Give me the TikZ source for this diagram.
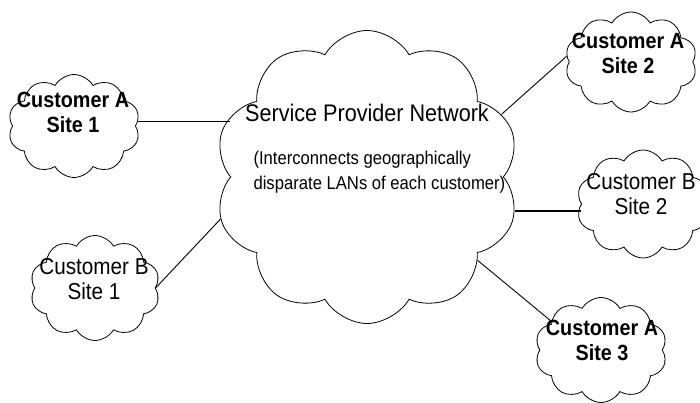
\documentclass[tikz,border=0pt]{standalone}
\usepackage{fontspec}
\setmainfont[FakeStretch=0.9]{Liberation Sans}
\usetikzlibrary{shapes.symbols}

\begin{document}
\begin{tikzpicture}[x=1pt, y=-1pt,
	cloudy/.style={cloud, draw, cloud puffs=10, cloud puff arc=120,
		cloud ignores aspect, inner sep=0pt, line width=0.8pt},
	site/.style={font=\fontsize{23}{25}\selectfont, align=center},
	sitea/.style={font=\fontsize{22}{25}\selectfont\bfseries, align=center},
	link/.style={line width=0.9pt},
	fatlink/.style={line width=1.6pt}
	]
	\useasboundingbox (0,0) rectangle (700,403);

	% provider cloud
	\node[cloudy, minimum width=305pt, minimum height=293pt] (spn) at (367,177) {};
	\node[font=\fontsize{24}{28}\selectfont] (title) at (367,113) {Service Provider Network};
	\node[font=\fontsize{18.5}{25}\selectfont, align=left, anchor=west] (sub) at (250,172)
	{(Interconnects geographically\\disparate LANs of each customer)};

	% customer sites
	\node[cloudy, minimum width=132pt, minimum height=103pt] (a1) at (74,126) {};
	\node[sitea] (a1t) at (73,112) {Customer A\\Site 1};
	\node[cloudy, minimum width=130pt, minimum height=105pt] (b1) at (95,288) {};
	\node[site] (b1t) at (94,279) {Customer B\\Site 1};
	\node[cloudy, minimum width=132pt, minimum height=100pt] (a2) at (631,62) {};
	\node[sitea] (a2t) at (628,53) {Customer A\\Site 2};
	\node[cloudy, minimum width=133pt, minimum height=108pt] (b2) at (643,204) {};
	\node[site] (b2t) at (641,194) {Customer B\\Site 2};
	\node[cloudy, minimum width=132pt, minimum height=105pt] (a3) at (601,350) {};
	\node[sitea] (a3t) at (602,340) {Customer A\\Site 3};

	\draw[fatlink] (a1.4) -- (a1.4 -| spn.west);
	\draw[link] (b1.0) -- (spn.196);
	\draw[link] (spn.25) -- (a2.175);
	\draw[fatlink] (spn.347) -- (spn.347 -| b2.west);
	\draw[link] (spn.323) -- (a3.150);
\end{tikzpicture}
\end{document}
